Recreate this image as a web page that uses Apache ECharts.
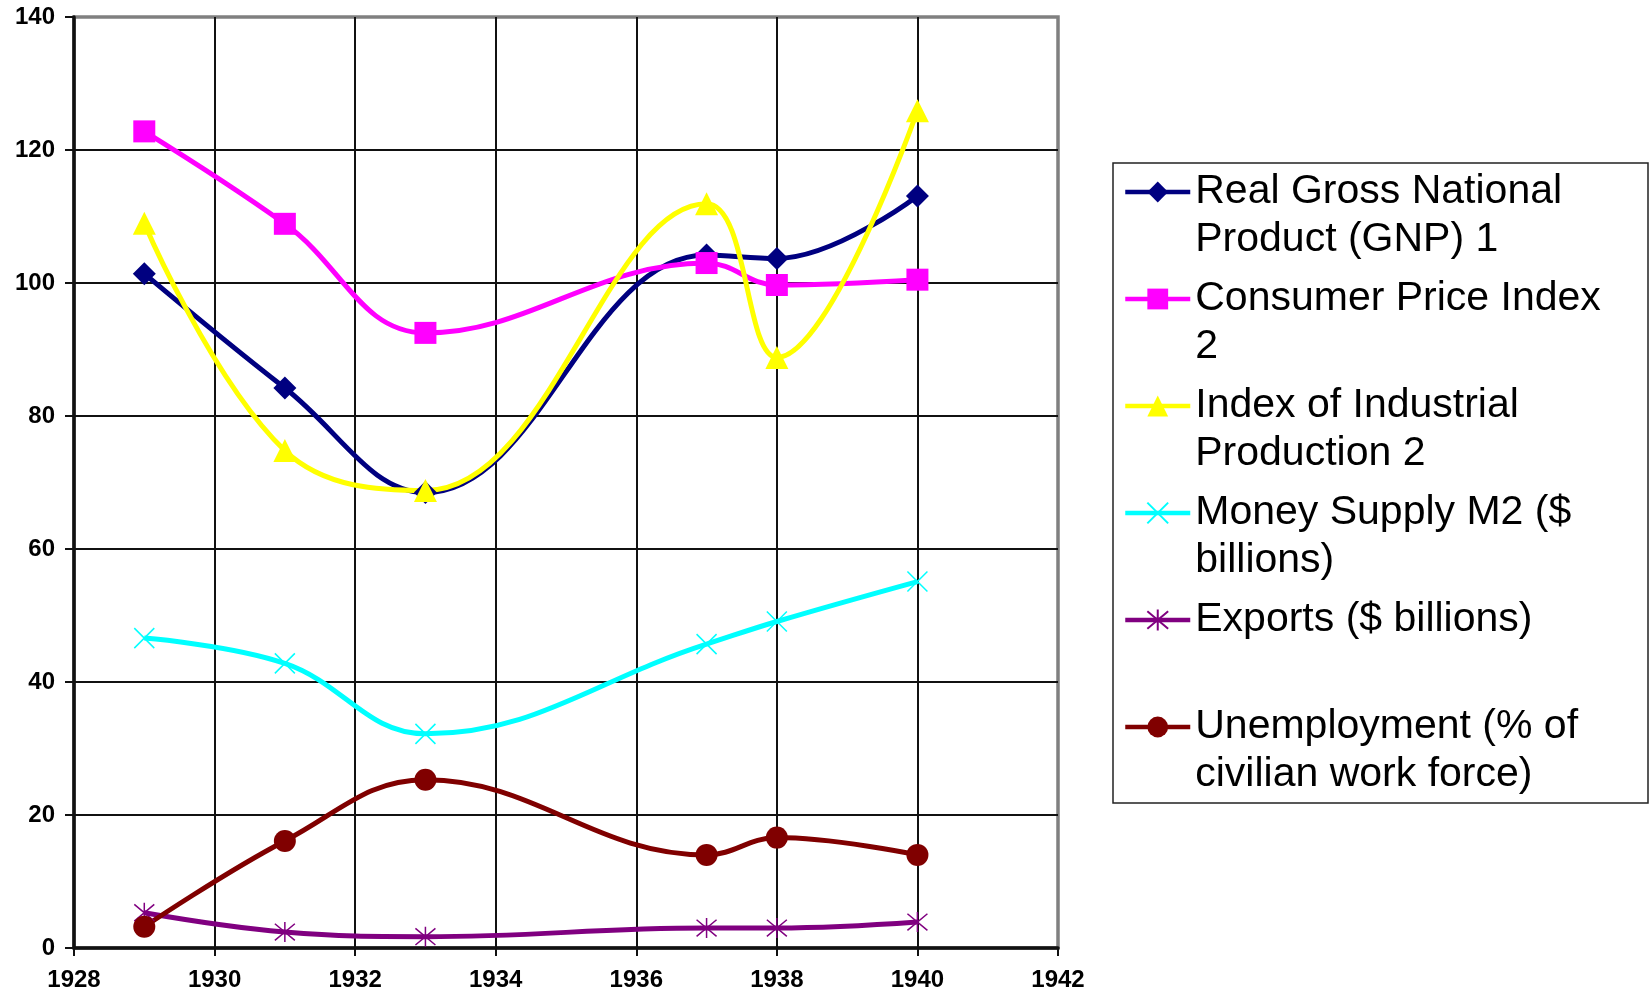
<!DOCTYPE html>
<html>
<head>
<meta charset="utf-8">
<script src="https://cdn.jsdelivr.net/npm/echarts@6/dist/echarts.min.js"></script>
<style>
  html, body { margin: 0; padding: 0; background: #fff; }
  #chart { width: 1651px; height: 994px; }
</style>
</head>
<body>
<div id="chart"></div>
<script>
// years that carry a data point
const years = [1929, 1931, 1933, 1937, 1938, 1940]

const gnp = [101.4, 84.2, 68.5, 104.2, 103.7, 113.1]
const cpi = [122.8, 108.9, 92.5, 103.0, 99.7, 100.5]
const industrial = [109.0, 74.8, 68.8, 111.9, 88.8, 125.9]
const moneySupply = [46.6, 42.8, 32.2, 45.7, 49.1, 55.1]
const exportsVal = [5.3, 2.4, 1.7, 3.0, 3.0, 3.9]
const unemployment = [3.2, 16.1, 25.3, 14.0, 16.6, 14.0]

const seriesNames = [
  'Real Gross National Product (GNP) 1',
  'Consumer Price Index 2',
  'Index of Industrial Production 2',
  'Money Supply M2 ($ billions)',
  'Exports ($ billions)',
  'Unemployment (% of civilian work force)',
]
// how the legend wraps the names
const legendLabels = [
  'Real Gross National\nProduct (GNP) 1',
  'Consumer Price Index\n2',
  'Index of Industrial\nProduction 2',
  'Money Supply M2 ($\nbillions)',
  'Exports ($ billions)\n ',
  'Unemployment (% of\ncivilian work force)',
]

const xTicks = { min: 1928, max: 1942, step: 2 }
const yTicks = { min: 0, max: 140, step: 20 }

const chart = echarts.init(document.getElementById('chart'))

const toPairs = vals => years.map((y, i) => [y, vals[i]])

function line(name, vals, color, symbol, size, stroke) {
  return {
    name,
    type: 'line',
    data: toPairs(vals),
    smooth: 0.4,
    symbol,
    symbolSize: size,
    lineStyle: { width: 5, color },
    itemStyle: { color, borderColor: color, borderWidth: stroke },
    emphasis: { disabled: true },
  }
}

const xMark = 'path://M0,0L10,10M10,0L0,10'
const starMark = 'path://M0,0L10,10M10,0L0,10M5,-1L5,11'

chart.setOption({
  animation: false,
  textStyle: { fontFamily: 'Liberation Sans, Arial, sans-serif' },
  grid: {
    left: 74,
    right: 593,
    top: 17,
    bottom: 46,
    show: true,
    borderColor: '#808080',
    borderWidth: 3.5,
  },
  legend: {
    orient: 'vertical',
    left: 1123,
    top: 120,
    padding: 0,
    itemGap: -37,
    itemWidth: 65,
    itemHeight: 26,
    data: seriesNames,
    formatter: name => '\n' + legendLabels[seriesNames.indexOf(name)],
    lineStyle: { width: 4.5 },
    textStyle: {
      fontFamily: 'Liberation Sans, Arial, sans-serif',
      fontSize: 41,
      lineHeight: 48,
      color: '#000',
    },
    selectedMode: false,
  },
  graphic: [
    {
      type: 'rect',
      shape: { x: 1113, y: 163, width: 535, height: 640 },
      style: { fill: 'none', stroke: '#222', lineWidth: 1.5 },
      silent: true,
    },
  ],
  xAxis: {
    type: 'value',
    min: xTicks.min,
    max: xTicks.max,
    interval: xTicks.step,
    axisLine: { show: true, lineStyle: { color: '#111', width: 3.5 } },
    axisTick: { show: true, length: 8, lineStyle: { color: '#111', width: 2 } },
    axisLabel: {
      color: '#000',
      fontSize: 24,
      fontWeight: 'bold',
      margin: 20,
      formatter: v => String(v),
    },
    splitLine: {
      show: true,
      showMinLine: false,
      showMaxLine: false,
      lineStyle: { color: '#111', width: 2 },
    },
  },
  yAxis: {
    type: 'value',
    min: yTicks.min,
    max: yTicks.max,
    interval: yTicks.step,
    axisLine: { show: true, lineStyle: { color: '#111', width: 3.5 } },
    axisTick: { show: true, length: 9, lineStyle: { color: '#111', width: 2 } },
    axisLabel: {
      color: '#000',
      fontSize: 24,
      fontWeight: 'bold',
      margin: 19,
    },
    splitLine: {
      show: true,
      showMinLine: false,
      showMaxLine: false,
      lineStyle: { color: '#111', width: 2 },
    },
  },
  series: [
    line(seriesNames[0], gnp, '#000080', 'diamond', 23, 0),
    line(seriesNames[1], cpi, '#ff00ff', 'rect', 22, 0),
    line(seriesNames[2], industrial, '#ffff00', 'triangle', 23, 0),
    line(seriesNames[3], moneySupply, '#00ffff', xMark, 20, 1.5),
    line(seriesNames[4], exportsVal, '#800080', starMark, 20, 1.5),
    line(seriesNames[5], unemployment, '#800000', 'circle', 22, 0),
  ],
})
</script>
</body>
</html>
